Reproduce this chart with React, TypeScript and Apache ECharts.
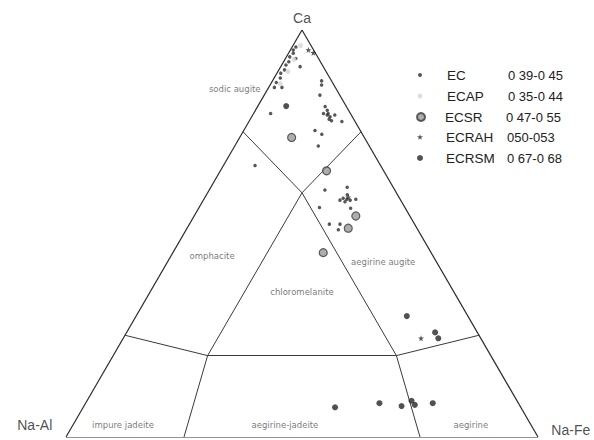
import React, { useEffect, useRef } from "react";
import * as echarts from "echarts";

// Ternary data: [Ca %, Na-Fe %]  (Na-Al = 100 - Ca - NaFe)
const EC_POINTS: number[][] = [
  [95.8, 0.8], [95.1, 0.6], [94.3, 1.0], [93.4, 0.7], [92.2, 1.1], [91.4, 0.9],
  [90.2, 1.2], [89.4, 0.8], [88.2, 1.3], [87.1, 1.0], [85.9, 1.2], [93.0, 2.2],
  [91.0, 4.1], [85.9, 2.8], [87.5, 10.4], [86.5, 10.9], [84.0, 11.8], [79.5, 3.6],
  [81.2, 14.3], [80.3, 15.2], [79.5, 15.8], [78.7, 16.6], [78.1, 16.7], [77.7, 17.4],
  [79.1, 15.8], [79.5, 14.8], [79.1, 17.4], [77.5, 19.7], [75.3, 15.1], [74.4, 17.0],
  [71.5, 17.7], [66.7, 6.7], [60.7, 24.5], [61.35, 28.9], [58.2, 28.95], [58.65, 29.4],
  [58.4, 30.3], [57.8, 30.2], [59.5, 29.85], [58.2, 31.1], [58.4, 32.2], [56.2, 32.2],
  [56.4, 25.5], [52.3, 29.65], [52.3, 31.9], [50.9, 32.25],
];
const ECAP_POINTS: number[][] = [[96.2, 1.6], [92.8, 1.9], [89.8, 2.1], [86.8, 2.0]];
const ECSR_POINTS: number[][] = [[73.6, 11.0], [65.4, 22.5], [54.3, 34.25], [51.3, 34.15], [45.3, 31.85]];
const ECRAH_POINTS: number[][] = [[95.1, 3.8], [94.4, 5.2], [58.9, 30.35], [24.25, 63.1]];
const ECRSM_POINTS: number[][] = [
  [81.3, 6.0], [29.7, 57.35], [25.7, 65.35], [24.25, 66.75], [7.3, 53.35],
  [8.3, 62.25], [7.6, 67.3], [8.9, 68.75], [7.9, 69.95], [8.3, 73.55],
];

const SERIES_NAMES = ["EC", "ECAP", "ECSR", "ECRAH", "ECRSM"];
const RANGES = ["0 39-0 45", "0 35-0 44", "0 47-0 55", "050-053", "0 67-0 68"];

// Field boundaries, ternary [Ca, NaFe] end points
const OUTLINE: number[][][] = [
  [[100, 0], [0, 0]], [[0, 0], [0, 100]], [[0, 100], [100, 0]],
];
const BOUNDARIES: number[][][] = [
  [[75, 0], [60, 20]], [[75, 25], [60, 20]], [[60, 20], [20, 20]], [[60, 20], [20, 60]],
  [[20, 20], [20, 60]], [[25, 0], [20, 20]], [[20, 60], [25, 75]], [[20, 20], [0, 25]],
  [[20, 60], [0, 75]],
];

const FIELD_NAMES = ["sodic augite", "omphacite", "chloromelanite", "aegirine augite", "impure jadeite", "aegirine-jadeite", "aegirine"];
const FIELD_POS: number[][] = [[85.5, -7.0], [44.5, 8.7], [35.6, 32.2], [43.0, 45.7], [2.95, 10.6], [2.95, 44.9], [2.95, 84.3]];

const APEX_NAMES = ["Ca", "Na-Al", "Na-Fe"];
const APEX_POS: number[][] = [[103, -1.5], [2.95, -8.1], [1.7, 106.1]];

const SQ = Math.sqrt(3) / 2;
const toXY = (p: number[]) => [p[1] + p[0] / 2, p[0] * SQ];

const STAR = "path://M0,-5L1.2,-1.6L4.8,-1.6L1.9,0.6L2.9,4L0,2L-2.9,4L-1.9,0.6L-4.8,-1.6L-1.2,-1.6Z";

export default function App() {
  const ref = useRef<HTMLDivElement>(null);
  useEffect(() => {
    if (!ref.current) return;
    const chart = echarts.init(ref.current, undefined, { renderer: "svg" });
    const font = "Liberation Sans";
    const styles: any[] = [
      { symbol: "circle", size: 3.5, itemStyle: { color: "#2e2e2e" }, pts: EC_POINTS },
      { symbol: "circle", size: 5, itemStyle: { color: "#d6d6d6" }, pts: ECAP_POINTS },
      { symbol: "circle", size: 8, itemStyle: { color: "#9a9a9a", borderColor: "#3a3a3a", borderWidth: 1.2 }, pts: ECSR_POINTS },
      { symbol: STAR, size: 6, itemStyle: { color: "#2e2e2e" }, pts: ECRAH_POINTS },
      { symbol: "circle", size: 6, itemStyle: { color: "#262626" }, pts: ECRSM_POINTS },
    ];
    const legendSizes = [4, 5, 8, 6, 6];
    const legendPadFix = [0, 0, -3, -1, -1];
    const rowCenters = [75, 96, 117, 137, 158];

    const legends = SERIES_NAMES.map((name, i) => {
      const w = legendSizes[i];
      return {
        data: [name],
        orient: "horizontal",
        left: 420 - w / 2,
        top: rowCenters[i] - 7,
        padding: 0,
        itemWidth: w,
        itemHeight: w,
        selectedMode: false,
        formatter: (n: string) => `{n|${n}}{v|${RANGES[i]}}`,
        textStyle: {
          rich: {
            n: { fontSize: 13.5, fontFamily: font, color: "#222", width: 61, padding: [0, 0, 0, 22 - w / 2 + legendPadFix[i]], lineHeight: 14 },
            v: { fontSize: 13, fontFamily: font, color: "#222", lineHeight: 14 },
          },
        },
      };
    });

    const option: any = {
      animation: false,
      backgroundColor: "#ffffff",
      grid: { left: 66, right: 56, top: 30, bottom: 3 },
      xAxis: { type: "value", min: 0, max: 100, show: false },
      yAxis: { type: "value", min: 0, max: 100 * SQ, show: false },
      legend: legends,
      series: [
        {
          type: "lines",
          coordinateSystem: "cartesian2d",
          silent: true,
          lineStyle: { color: "#2a2a2a", width: 1.2, opacity: 1 },
          data: OUTLINE.map((s) => ({ coords: s.map(toXY) })),
        },
        {
          type: "lines",
          coordinateSystem: "cartesian2d",
          silent: true,
          lineStyle: { color: "#3a3a3a", width: 1, opacity: 1 },
          data: BOUNDARIES.map((s) => ({ coords: s.map(toXY) })),
        },
        ...styles.map((s, i) => ({
          name: SERIES_NAMES[i],
          type: "scatter",
          symbol: s.symbol,
          symbolSize: s.size,
          itemStyle: s.itemStyle,
          clip: false,
          data: s.pts.map(toXY),
        })),
        {
          type: "scatter",
          silent: true,
          clip: false,
          symbolSize: 0,
          label: {
            show: true,
            position: "inside",
            formatter: "{b}",
            fontFamily: "DejaVu Sans",
            fontSize: 8.5,
            color: "#555",
          },
          data: FIELD_NAMES.map((n, i) => ({ name: n, value: toXY(FIELD_POS[i]) })),
        },
        {
          type: "scatter",
          silent: true,
          clip: false,
          symbolSize: 0,
          label: {
            show: true,
            position: "inside",
            formatter: "{b}",
            fontFamily: font,
            fontSize: 14,
            color: "#222",
          },
          data: APEX_NAMES.map((n, i) => ({ name: n, value: toXY(APEX_POS[i]) })),
        },
      ],
    };
    chart.setOption(option);
    return () => chart.dispose();
  }, []);
  return <div ref={ref} style={{ width: 594, height: 440, position: "absolute", left: 0, top: 0 }} />;
}
